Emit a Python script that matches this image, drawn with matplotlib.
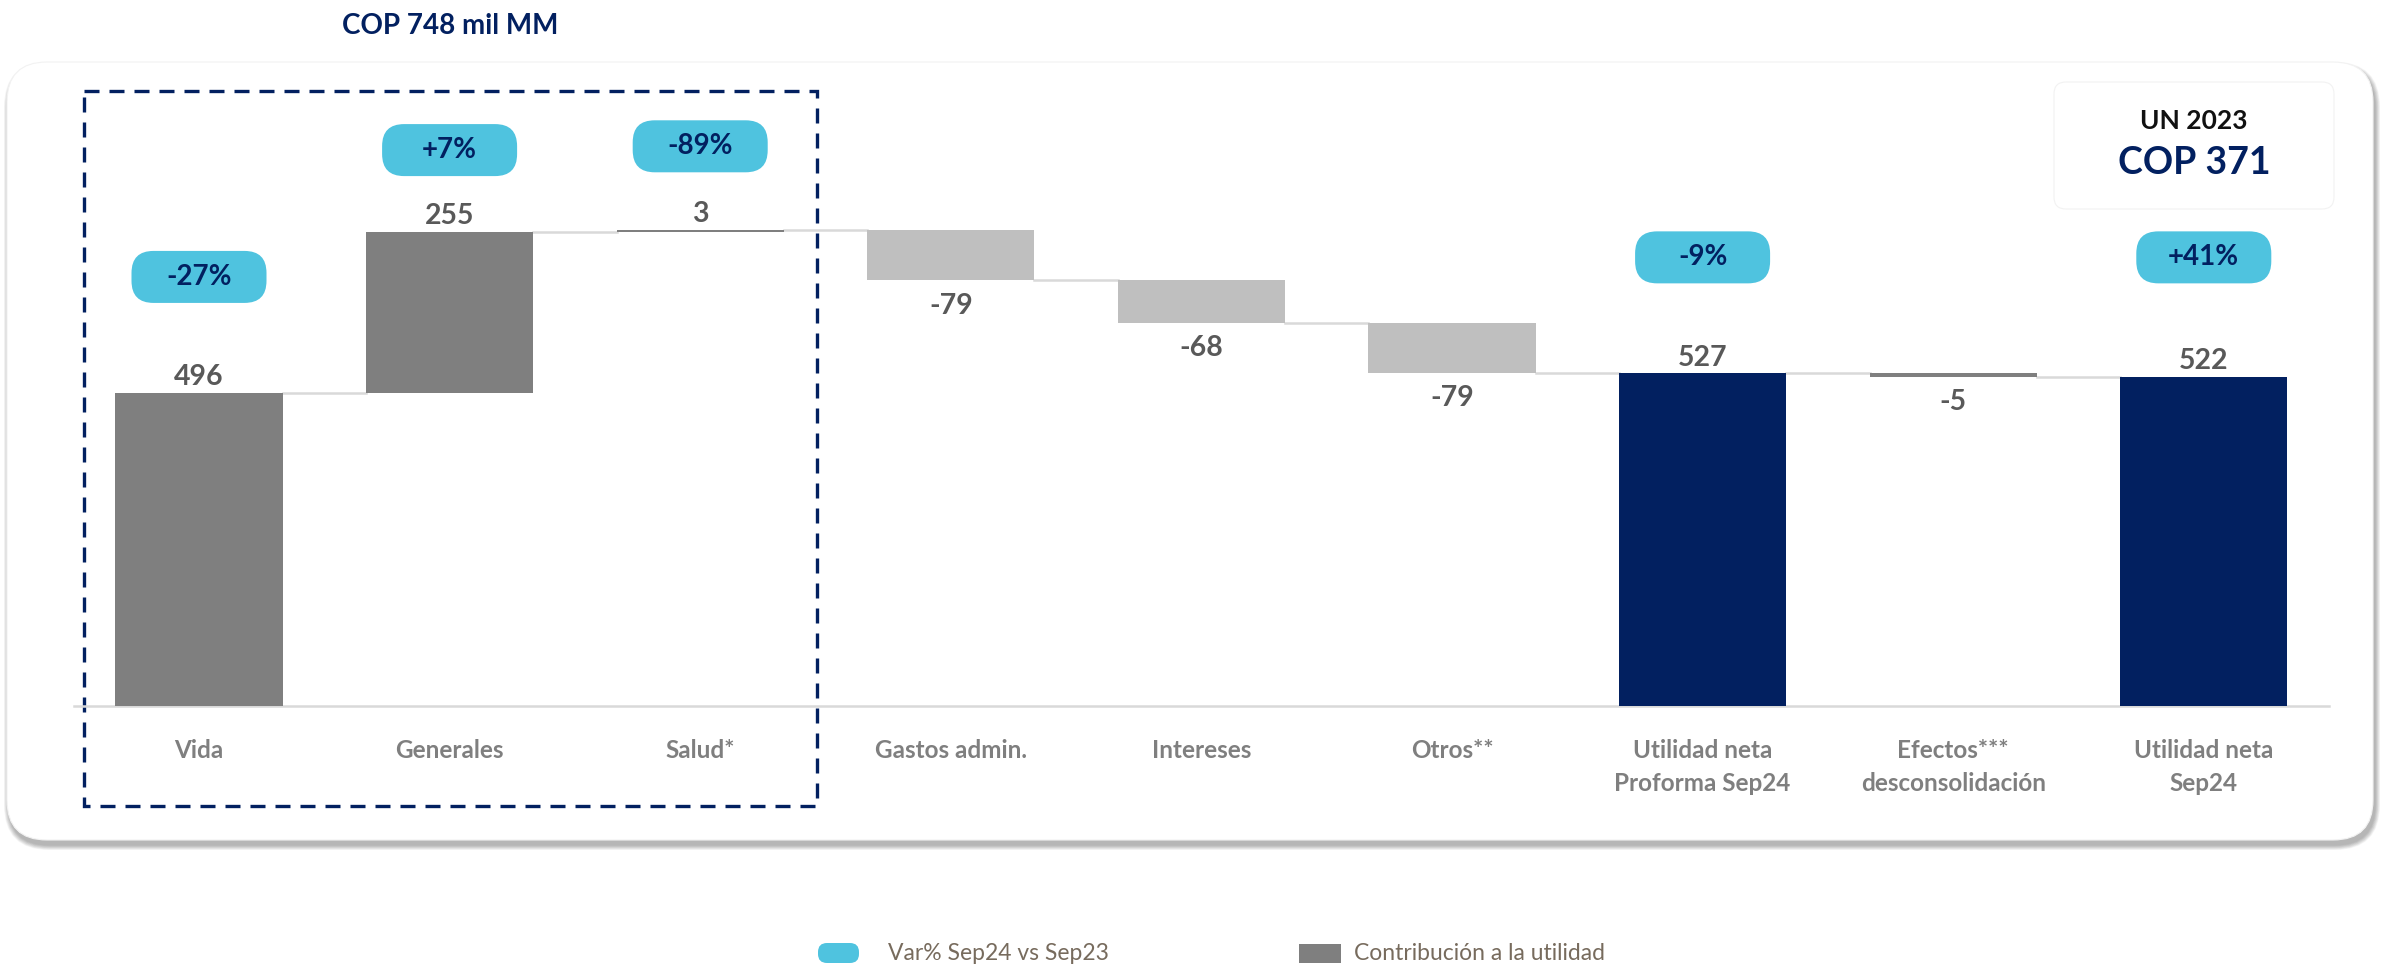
import matplotlib.pyplot as plt
from matplotlib.patches import FancyBboxPatch, Rectangle

plt.rcParams['font.family'] = ['Lato', 'DejaVu Sans']

# waterfall data (COP mil MM)
categories = ['Vida', 'Generales', 'Salud*', 'Gastos admin.', 'Intereses', 'Otros**',
              'Utilidad neta\nProforma Sep24', 'Efectos***\ndesconsolidación',
              'Utilidad neta\nSep24']
values = [496, 255, 3, -79, -68, -79, 527, -5, 522]
kinds = ['segment', 'segment', 'segment', 'cost', 'cost', 'cost', 'total', 'segment', 'total']

# yearly change badges
var_labels = ['-27%', '+7%', '-89%', None, None, None, '-9%', None, '+41%']
badge_y = [680, 881, 887, None, None, None, 711, None, 711]

title = 'COP 748 mil MM'
box_title = 'UN 2023'
box_value = 'COP 371'
legend_labels = ['Var% Sep24 vs Sep23', 'Contribución a la utilidad']

NAVY = '#022060'
DARK = '#7f7f7f'
LIGHT = '#bfbfbf'
CYAN = '#4fc3df'
LABEL = '#595959'
colors = {'segment': DARK, 'cost': LIGHT, 'total': NAVY}

W, H = 2382, 966
X0, STEP = 199, 250.6      # pixel centre of first bar, spacing
Y0, PPU = 706, 0.631       # baseline pixel, pixels per unit

fig = plt.figure(figsize=(W / 100, H / 100), dpi=100)
fig.patch.set_facecolor('white')

# background layer in pixel coordinates
deco = fig.add_axes([0, 0, 1, 1], zorder=0)
deco.set_xlim(0, W)
deco.set_ylim(H, 0)
deco.axis('off')

ax = fig.add_axes([0, 0, 1, 1], zorder=1)
ax.patch.set_alpha(0)
ax.set_xlim(-X0 / STEP, (W - X0) / STEP)
ax.set_ylim(-(H - Y0) / PPU, Y0 / PPU)
ax.axis('off')


def shadowed_box(x, y, w, h, r, layers, spread, dx, dy, alpha):
    for k in range(layers, 0, -1):
        s = spread * k / layers
        deco.add_patch(FancyBboxPatch((x + dx - s / 2, y + dy - s / 2), w + s, h + s,
                                      boxstyle=f'round,pad=0,rounding_size={r + s / 2}',
                                      fc='black', ec='none', alpha=alpha, zorder=1))
    deco.add_patch(FancyBboxPatch((x, y), w, h, boxstyle=f'round,pad=0,rounding_size={r}',
                                  fc='white', ec='#f2f2f2', lw=0.8, zorder=2))


# card
shadowed_box(7, 62, 2366, 778, 40, 8, 10, 2, 5, 0.04)

# dashed frame around the business lines
deco.add_patch(Rectangle((84, 91), 733, 715, fill=False, ec=NAVY, lw=2.4,
                         linestyle=(0, (4.5, 3)), zorder=3))

# title
deco.text(450, 26, title, ha='center', va='center', fontsize=20, fontweight='bold',
          color=NAVY)

# summary box
shadowed_box(2054, 82, 280, 127, 12, 6, 8, 5, 6, 0.1)
deco.text(2194, 121, box_title, ha='center', va='center', fontsize=19,
          fontweight='bold', color='#111111', zorder=4)
deco.text(2194, 163, box_value, ha='center', va='center', fontsize=27,
          fontweight='bold', color=NAVY, zorder=4)

# waterfall geometry
n = len(values)
xs = list(range(n))
bottoms, heights, ends = [], [], []
running = 0
for v, k in zip(values, kinds):
    if k == 'total':
        bottoms.append(0)
        heights.append(v)
        running = v
    else:
        bottoms.append(running)
        heights.append(v)
        running += v
    ends.append(running)

bw = 0.667
ax.plot([-0.5, n - 0.5], [0, 0], color='#d9d9d9', lw=1.8, zorder=1)
ax.bar(xs, heights, bottom=bottoms, width=bw, color=[colors[k] for k in kinds],
       zorder=3)

# connectors
for i in range(n - 1):
    ax.plot([i + bw / 2, i + 1 - bw / 2], [ends[i], ends[i]], color='#d9d9d9',
            lw=1.8, zorder=2)

# value labels
for i, (v, b, k) in enumerate(zip(values, bottoms, kinds)):
    if v >= 0:
        ax.annotate(f'{v}', (i, b + v), xytext=(0, 2), textcoords='offset points',
                    ha='center', va='bottom', fontsize=20.5, fontweight='bold',
                    color=LABEL, zorder=5)
    else:
        ax.annotate(f'{v}', (i, b + v), xytext=(0, -9), textcoords='offset points',
                    ha='center', va='top', fontsize=20.5, fontweight='bold',
                    color=LABEL, zorder=5)

# category labels
for i, c in enumerate(categories):
    ax.annotate(c, (i, 0), xytext=(0, -24), textcoords='offset points', ha='center',
                va='top', fontsize=17.5, fontweight='bold', color=DARK,
                linespacing=1.5, zorder=5)

# badges
to_px = deco.transData.inverted()
for i, (lab, y) in enumerate(zip(var_labels, badge_y)):
    if lab is None:
        continue
    cx, cy = to_px.transform(ax.transData.transform((i, y)))
    deco.add_patch(FancyBboxPatch((cx - 67.5, cy - 26), 135, 52,
                                  boxstyle='round,pad=0,rounding_size=22',
                                  fc=CYAN, ec='none', zorder=5))
    deco.text(cx, cy, lab, ha='center', va='center', fontsize=20, fontweight='bold',
              color=NAVY, zorder=6)

# legend
deco.add_patch(FancyBboxPatch((818, 943), 41, 20, boxstyle='round,pad=0,rounding_size=9',
                              fc=CYAN, ec='none', zorder=3))
deco.text(888, 953, legend_labels[0], ha='left', va='center', fontsize=16.5,
          color='#776b5d')
deco.add_patch(Rectangle((1299, 944), 42, 19, fc=DARK, ec='none', zorder=3))
deco.text(1354, 953, legend_labels[1], ha='left', va='center', fontsize=16.5,
          color='#776b5d')

fig.savefig('out.png', dpi=100, facecolor='white')
